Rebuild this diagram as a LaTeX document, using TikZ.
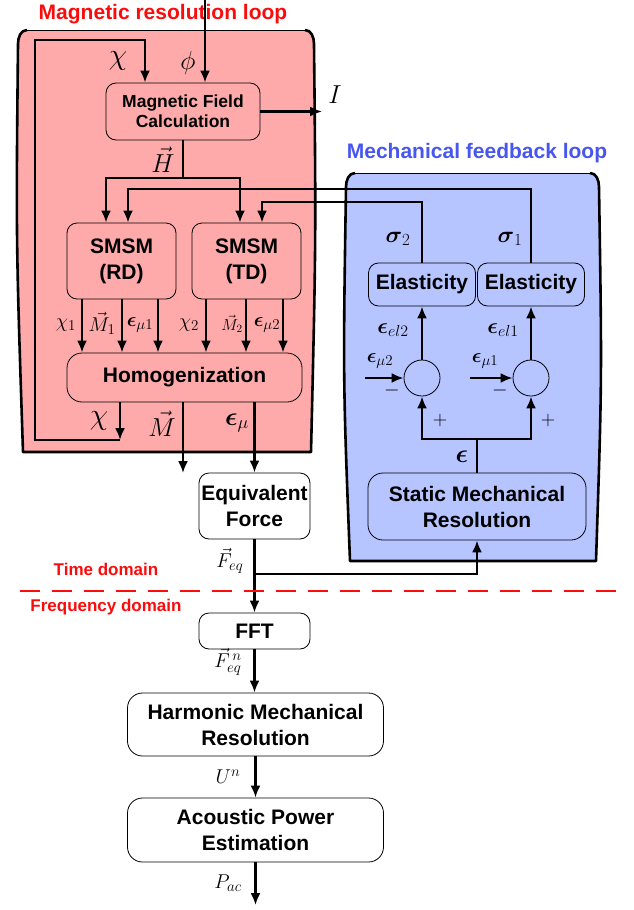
\RequirePackage{fix-cm}
\documentclass[tikz,border=0pt]{standalone}
\usepackage{amsmath}
\usepackage{fontspec}
\setsansfont{Liberation Sans}
\usetikzlibrary{arrows.meta, calc}
\DeclareMathSizes{20}{20}{15}{11}
\DeclareMathSizes{22}{22}{16}{12}
\DeclareMathSizes{23}{23}{17}{12}
\definecolor{loopred}{RGB}{255, 170, 170}
\definecolor{loopblue}{RGB}{182, 196, 255}
\definecolor{titlered}{RGB}{250, 12, 12}
\definecolor{titleblue}{RGB}{72, 86, 240}
\tikzset{
    flow/.style={line width=2.2pt, -{Latex[length=12pt, width=10pt]}},
    wire/.style={line width=2.2pt},
    block/.style={draw, line width=0.8pt, rounded corners=10pt, align=center,
        inner sep=0pt, font=\sffamily\bfseries\fontsize{21}{26}\selectfont},
    bigblock/.style={block, rounded corners=15pt},
    sumnode/.style={draw, line width=0.8pt, circle, minimum size=36pt, inner sep=0pt},
    lbl/.style={inner sep=0pt, font=\fontsize{20}{24}\selectfont},
    biglbl/.style={inner sep=0pt, font=\fontsize{26}{30}\selectfont},
    looptitle/.style={inner sep=0pt, font=\sffamily\bfseries\fontsize{21}{25}\selectfont},
    domaintext/.style={inner sep=0pt, text=titlered, font=\sffamily\bfseries\fontsize{17}{20}\selectfont}
}

\begin{document}
\begin{tikzpicture}[x=1pt, y=-1pt]

    \useasboundingbox (0, 0) rectangle (633, 910);

    % magnetic loop panel
    \fill[loopred] (27, 30) -- (305, 30) to[out=0, in=90] (314, 44)
        .. controls (316, 240) .. (311, 452) -- (23, 452)
        .. controls (16, 240) .. (18, 44) to[out=90, in=180] (27, 30) -- cycle;
    \draw[line width=1pt] (27, 30) -- (305, 30);
    \draw[line width=2.6pt, line join=round] (305, 30) to[out=0, in=90] (314, 44)
        .. controls (316, 240) .. (311, 452) -- (23, 452)
        .. controls (16, 240) .. (18, 44) to[out=90, in=180] (27, 30);
    \node[looptitle, text=titlered] (magtitle) at (163, 14) {Magnetic resolution loop};

    % mechanical loop panel
    \fill[loopblue] (355, 173) -- (590, 173) to[out=0, in=90] (599, 187)
        .. controls (602, 380) .. (596, 561) -- (350, 561)
        .. controls (343, 380) .. (346, 187) to[out=90, in=180] (355, 173) -- cycle;
    \draw[line width=1pt] (355, 173) -- (590, 173);
    \draw[line width=2.6pt, line join=round] (590, 173) to[out=0, in=90] (599, 187)
        .. controls (602, 380) .. (596, 561) -- (350, 561)
        .. controls (343, 380) .. (346, 187) to[out=90, in=180] (355, 173);
    \node[looptitle, text=titleblue] (mectitle) at (477, 153) {Mechanical feedback loop};

    % blocks
    \node[block, minimum width=154pt, minimum height=57pt,
        font=\sffamily\bfseries\fontsize{17.5}{20}\selectfont]
        (mfc) at (183, 111.5) {Magnetic Field\\Calculation};
    \node[block, minimum width=109pt, minimum height=76pt] (rd) at (121.5, 261) {SMSM\\(RD)};
    \node[block, minimum width=109pt, minimum height=76pt] (td) at (246.5, 261) {SMSM\\(TD)};
    \node[bigblock, minimum width=235pt, minimum height=49pt] (hom) at (184.5, 377.5) {Homogenization};
    \node[block, minimum width=111pt, minimum height=66pt] (ef) at (254.5, 506) {Equivalent\\Force};
    \node[block, minimum width=111pt, minimum height=36pt] (fft) at (254.5, 631) {FFT};
    \node[bigblock, minimum width=256pt, minimum height=63pt] (hmr) at (255.5, 724.5) {Harmonic Mechanical\\Resolution};
    \node[bigblock, minimum width=256pt, minimum height=64pt] (ape) at (255.5, 830) {Acoustic Power\\Estimation};

    \node[block, minimum width=107pt, minimum height=43pt] (el2) at (422, 284.5) {Elasticity};
    \node[block, minimum width=107pt, minimum height=43pt] (el1) at (531, 284.5) {Elasticity};
    \node[sumnode] (s2) at (422, 378) {};
    \node[sumnode] (s1) at (531, 378) {};
    \node[bigblock, minimum width=218pt, minimum height=67pt] (smr) at (477, 506.5) {Static Mechanical\\Resolution};

    % free ends and bends
    \coordinate (phiin) at (205, 0);
    \coordinate (Iout) at (322, 111.5);
    \coordinate (chiin) at (145, 40);
    \coordinate (fbA) at (120, 440);
    \coordinate (fbB) at (35, 40);
    \coordinate (hj) at (183, 178);
    \coordinate (Mout) at (183, 473);
    \coordinate (fj) at (254.5, 574);
    \coordinate (Pout) at (255.5, 905);
    \coordinate (ej) at (477, 439);
    \coordinate (mu2in) at (365, 378);
    \coordinate (mu1in) at (470, 378);

    % magnetic loop
    \draw[flow] (phiin) -- (phiin |- mfc.north);
    \draw[flow] (mfc.east) -- (Iout);
    \draw[flow] (hom.south -| fbA) -- (fbA);
    \draw[flow] (fbA) -| (fbB) -- (chiin) -- (chiin |- mfc.north);
    \draw[wire] (mfc.south) -- (hj);
    \draw[flow] (hj) -| ([xshift=-15.5pt]rd.north);
    \draw[flow] (hj) -| ([xshift=-6.5pt]td.north);
    \foreach \dx in {-39.5, 0.5, 36.5} {%
        \draw[flow] ([xshift=\dx pt]rd.south) -- ([xshift=\dx pt]rd.south |- hom.north);
    };
    \foreach \dx in {-40.5, -0.5, 36.5} {%
        \draw[flow] ([xshift=\dx pt]td.south) -- ([xshift=\dx pt]td.south |- hom.north);
    };
    \draw[flow] (hom.south -| Mout) -- (Mout);
    \draw[flow] (hom.south -| ef.north) -- (ef.north);

    % mechanical loop
    \draw[flow] (el1.north) -- ++(0, -74) -| ([xshift=6.5pt]rd.north);
    \draw[flow] (el2.north) -- ++(0, -61) -| ([xshift=15.5pt]td.north);
    \draw[flow] (s2.north) -- (el2.south);
    \draw[flow] (s1.north) -- (el1.south);
    \draw[flow] (mu2in) -- (s2.west);
    \draw[flow] (mu1in) -- (s1.west);
    \draw[wire] (smr.north) -- (ej);
    \draw[flow] (ej) -| (s2.south);
    \draw[flow] (ej) -| (s1.south);

    % frequency chain
    \draw[flow] (ef.south) -- (fft.north);
    \draw[flow] (fj) -| (smr.south);
    \draw[flow] (fft.south) -- (fft.south |- hmr.north);
    \draw[flow] (hmr.south) -- (ape.north);
    \draw[flow] (ape.south) -- (Pout);

    % domains
    \draw[titlered, line width=2.5pt, dash pattern=on 20pt off 12pt] (20, 591) -- (626, 591);
    \node[domaintext] (timedom) at (106, 569) {Time domain};
    \node[domaintext] (freqdom) at (106, 607) {Frequency domain};

    % labels
    \node[biglbl, font=\fontsize{30}{32}\selectfont] (chitop) at (118, 61) {$\chi$};
    \node[biglbl] (philbl) at (188, 63) {$\phi$};
    \node[biglbl] (Ilbl) at (335, 95) {$I$};
    \node[biglbl] (Hlbl) at (163, 160) {$\vec{H}$};
    \node[lbl] (chi1) at (66, 325) {$\chi_1$};
    \node[lbl] (M1) at (102, 323) {$\vec{M}_1$};
    \node[lbl] (emu1) at (140, 325) {$\boldsymbol{\epsilon}_{\mu 1}$};
    \node[lbl] (chi2) at (189, 325) {$\chi_2$};
    \node[lbl, font=\fontsize{16}{18}\selectfont] (M2) at (232, 324) {$\vec{M}_2$};
    \node[lbl] (emu2) at (267, 325) {$\boldsymbol{\epsilon}_{\mu 2}$};
    \node[biglbl, font=\fontsize{30}{32}\selectfont] (chibot) at (99, 421) {$\chi$};
    \node[biglbl] (Mlbl) at (162, 424) {$\vec{M}$};
    \node[biglbl] (emulbl) at (237, 423) {$\boldsymbol{\epsilon}_{\mu}$};
    \node[lbl] (Feq) at (230, 561) {$\vec{F}_{eq}$};
    \node[lbl] (Feqn) at (228, 662) {$\vec{F}_{eq}^{\,n}$};
    \node[lbl] (Un) at (228, 777) {$U^n$};
    \node[lbl] (Pac) at (228, 883) {$P_{ac}$};

    \node[lbl, font=\fontsize{23}{26}\selectfont] (sig2) at (398, 239) {$\boldsymbol{\sigma}_2$};
    \node[lbl, font=\fontsize{23}{26}\selectfont] (sig1) at (510, 239) {$\boldsymbol{\sigma}_1$};
    \node[lbl, font=\fontsize{22}{26}\selectfont] (eel2) at (393, 330) {$\boldsymbol{\epsilon}_{el2}$};
    \node[lbl, font=\fontsize{22}{26}\selectfont] (eel1) at (503, 330) {$\boldsymbol{\epsilon}_{el1}$};
    \node[lbl] (emu2in) at (380, 361) {$\boldsymbol{\epsilon}_{\mu 2}$};
    \node[lbl] (emu1in) at (485, 361) {$\boldsymbol{\epsilon}_{\mu 1}$};
    \node[lbl] (minus2) at (392, 390) {$-$};
    \node[lbl] (minus1) at (500, 390) {$-$};
    \node[lbl] (plus2) at (440, 420) {$+$};
    \node[lbl] (plus1) at (548, 420) {$+$};
    \node[biglbl] (epslbl) at (462, 457) {$\boldsymbol{\epsilon}$};

\end{tikzpicture}
\end{document}
